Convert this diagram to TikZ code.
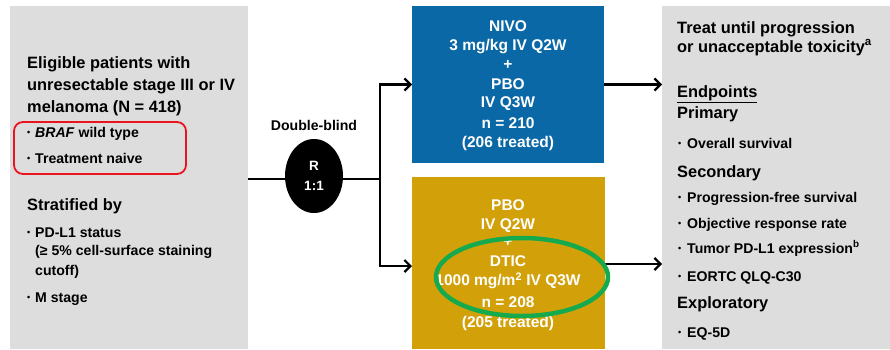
\documentclass[tikz,border=0pt]{standalone}
\usepackage{fontspec}
\setmainfont{Liberation Sans}
\usetikzlibrary{arrows.meta,shapes.geometric}
\definecolor{boxgray}{RGB}{221,221,221}
\definecolor{nivoblue}{RGB}{11,104,166}
\definecolor{dticgold}{RGB}{210,161,10}
\definecolor{hlgreen}{RGB}{22,170,78}
\definecolor{hlred}{RGB}{232,20,30}
\begin{document}
\begin{tikzpicture}[x=1pt,y=-1pt,
  panel/.style={inner sep=0,outer sep=0,anchor=north west},
  hd/.style={anchor=base west,inner sep=0,font=\fontsize{16.4}{19}\selectfont\bfseries},
  bl/.style={anchor=base west,inner sep=0,font=\fontsize{14.1}{17}\selectfont\bfseries},
  dot/.style={anchor=base west,inner sep=0,font=\fontsize{9}{10}\selectfont\bfseries},
  wt/.style={anchor=base,inner sep=0,text=white,font=\fontsize{15.5}{18}\selectfont\bfseries},
  conn/.style={line width=2.4pt,black},
  arr/.style={conn,-{Straight Barb[length=6pt,width=12pt,line width=2.2pt]}}]
\useasboundingbox (0,0) rectangle (890,349);
\fill[white] (0,0) rectangle (890,349);
% panels
\node[panel,fill=boxgray,minimum width=238,minimum height=343] (left) at (10,6) {};
\node[panel,fill=nivoblue,minimum width=192,minimum height=157] (blue) at (412,6) {};
\node[panel,fill=dticgold,minimum width=193,minimum height=172] (gold) at (412,177) {};
\node[panel,fill=boxgray,minimum width=228,minimum height=343] (right) at (662,6) {};
% left text
\node[hd] (l1) at (27,68) {Eligible patients with};
\node[hd] (l2) at (27,90) {unresectable stage III or IV};
\node[hd] (l3) at (27,112) {melanoma (N = 418)};
\node[dot] (b1) at (27,135) {•};
\node[bl] (l4) at (35,137) {\textit{BRAF} wild type};
\node[dot] (b2) at (27,161) {•};
\node[bl] (l5) at (35,163) {Treatment naive};
\node[hd] (l6) at (27,210) {Stratified by};
\node[dot] (b3) at (27,235) {•};
\node[bl] (l7) at (35,237) {PD-L1 status};
\node[bl] (l8) at (35,255) {(≥ 5\% cell-surface staining};
\node[bl] (l9) at (35,275) {cutoff)};
\node[dot] (b4) at (27,300) {•};
\node[bl] (l10) at (35,302) {M stage};
\node[draw=hlred,line width=1.8pt,rounded corners=9pt,minimum width=172,minimum height=52,panel] (redbox) at (14,122) {};
% randomisation
\node[ellipse,fill=black,minimum width=58,minimum height=74,inner sep=0] (R) at (314,176) {};
\node[wt,font=\fontsize{13.5}{16}\selectfont\bfseries] (Rt) at (314,170) {R};
\node[wt,font=\fontsize{13.5}{16}\selectfont\bfseries] (Rr) at (314,190) {1:1};
\node[bl,anchor=base] (db) at (314,130) {Double-blind};
\coordinate (split) at (380,179);
\draw[conn] (left.east |- split) -- (R.west |- split);
\draw[conn] (R.east |- split) -- (split);
\draw[arr] (split) |- (blue.west);
\draw[arr] (split) |- ([yshift=-3pt]gold.west);
\draw[arr] (blue.east) -- (blue.east -| right.west);
\draw[arr] ([yshift=-1pt]gold.east) -- ([yshift=-1pt]gold.east -| right.west);
% blue text
\node[wt] (n1) at (508,31.5) {NIVO};
\node[wt] (n2) at (508,50.5) {3 mg/kg IV Q2W};
\node[wt] (n3) at (508,69) {+};
\node[wt] (n4) at (508,89.5) {PBO};
\node[wt] (n5) at (508,107.5) {IV Q3W};
\node[wt] (n6) at (508,128.5) {n = 210};
\node[wt] (n7) at (508,147.5) {(206 treated)};
% gold text
\node[wt] (d1) at (508,210.5) {PBO};
\node[wt] (d2) at (508,229.5) {IV Q2W};
\node[wt] (d3) at (508,246) {+};
\node[wt] (d4) at (508,266.5) {DTIC};
\node[wt] (d5) at (508,285.5) {1000 mg/m\textsuperscript{2} IV Q3W};
\node[wt] (d6) at (508,307.5) {n = 208};
\node[wt] (d7) at (508,327.5) {(205 treated)};
\node[ellipse,draw=hlgreen,line width=4.5pt,minimum width=172,minimum height=78,inner sep=0] (hl) at (522,277) {};
% right text
\node[hd] (r1) at (677,33) {Treat until progression};
\node[hd] (r2) at (677,52) {or unacceptable toxicity\textsuperscript{a}};
\node[hd] (r3) at (677,97) {\underline{Endpoints}};
\node[hd] (r4) at (677,118) {Primary};
\node[dot] (rb1) at (678,146) {•};
\node[bl] (r5) at (687,148) {Overall survival};
\node[hd] (r6) at (677,177) {Secondary};
\node[dot] (rb2) at (678,200) {•};
\node[bl] (r7) at (687,202) {Progression-free survival};
\node[dot] (rb3) at (678,226) {•};
\node[bl] (r8) at (687,228) {Objective response rate};
\node[dot] (rb4) at (678,251) {•};
\node[bl] (r9) at (687,253) {Tumor PD-L1 expression\textsuperscript{b}};
\node[dot] (rb5) at (678,279) {•};
\node[bl] (r10) at (687,281) {EORTC QLQ-C30};
\node[hd] (r11) at (677,308) {Exploratory};
\node[dot] (rb6) at (678,335) {•};
\node[bl] (r12) at (687,337) {EQ-5D};
\end{tikzpicture}
\end{document}
